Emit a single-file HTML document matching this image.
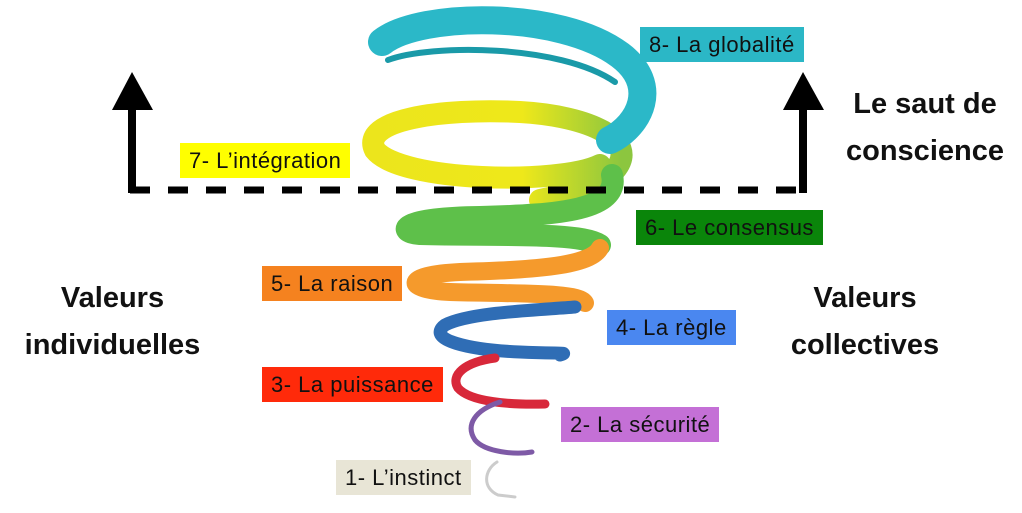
<!DOCTYPE html>
<html><head><meta charset="utf-8"><style>
body{margin:0;width:1022px;height:513px;background:#fff;overflow:hidden;position:relative;font-family:"Liberation Sans",sans-serif}
.l{position:absolute;font-size:22px;color:#111;padding:0 9px;height:35px;line-height:35px;white-space:nowrap;letter-spacing:0.5px}
.b{position:absolute;font-weight:bold;font-size:29px;line-height:47px;text-align:center;color:#111}
</style></head><body>
<svg width="1022" height="513" style="position:absolute;left:0;top:0">
<defs>
<linearGradient id="yg" x1="0" x2="1"><stop offset="0" stop-color="#ece51c"/><stop offset=".6" stop-color="#eee81a"/><stop offset="1" stop-color="#8cc63f"/></linearGradient>
</defs>
<g fill="none" stroke-linecap="round">
<path d="M600,165 C560,185 400,182 375,150 C360,120 440,108 520,112 C590,116 640,140 615,170 C600,190 560,195 540,200" stroke="url(#yg)" stroke-width="22"/>
<path d="M382,42 C420,12 560,10 620,55 C660,85 640,125 610,140" stroke="#2bb8c8" stroke-width="28"/>
<path d="M388,60 C430,44 560,44 615,82" stroke="#1a9aa8" stroke-width="6"/>
<path d="M612,175 C620,210 560,215 480,217 C400,218 395,232 420,234 C500,236 580,232 600,245" stroke="#5ec04a" stroke-width="22"/>
<path d="M600,248 C590,268 520,270 460,272 C400,275 405,290 450,292 C520,294 580,292 585,303" stroke="#f59a2c" stroke-width="18"/>
<path d="M575,307 C540,310 470,312 445,325 C425,340 470,350 520,352 C560,354 570,352 560,355" stroke="#2f6db5" stroke-width="13"/>
<path d="M495,358 C465,362 450,375 458,388 C470,402 510,405 545,404" stroke="#d8283a" stroke-width="9"/>
<path d="M500,402 C475,410 465,425 475,440 C485,452 515,455 532,452" stroke="#7e5aa6" stroke-width="5"/>
<path d="M497,462 C484,470 482,488 498,495 L515,497" stroke="#ccc" stroke-width="3"/>
</g>
<line x1="130" y1="190" x2="806" y2="190" stroke="#000" stroke-width="7" stroke-dasharray="20,18"/>
<rect x="128" y="105" width="8" height="88" fill="#000"/>
<polygon points="132,72 112,110 153,110" fill="#000"/>
<rect x="799" y="105" width="8" height="88" fill="#000"/>
<polygon points="803,72 783,110 824,110" fill="#000"/>
</svg>
<div class="l" style="left:640px;top:27px;background:#2bb7c6">8- La globalité</div>
<div class="l" style="left:180px;top:143px;background:#ffff00">7- L’intégration</div>
<div class="l" style="left:636px;top:210px;background:#0a850a">6- Le consensus</div>
<div class="l" style="left:262px;top:266px;background:#f5821f">5- La raison</div>
<div class="l" style="left:607px;top:310px;background:#4a87f0">4- La règle</div>
<div class="l" style="left:262px;top:367px;background:#ff2a0a">3- La puissance</div>
<div class="l" style="left:561px;top:407px;background:#c470d6">2- La sécurité</div>
<div class="l" style="left:336px;top:460px;background:#e8e5d6">1- L’instinct</div>
<div class="b" style="left:0;top:275px;width:225px">Valeurs<br>individuelles</div>
<div class="b" style="left:760px;top:275px;width:210px">Valeurs<br>collectives</div>
<div class="b" style="left:830px;top:81px;width:190px">Le saut de<br>conscience</div>
</body></html>
